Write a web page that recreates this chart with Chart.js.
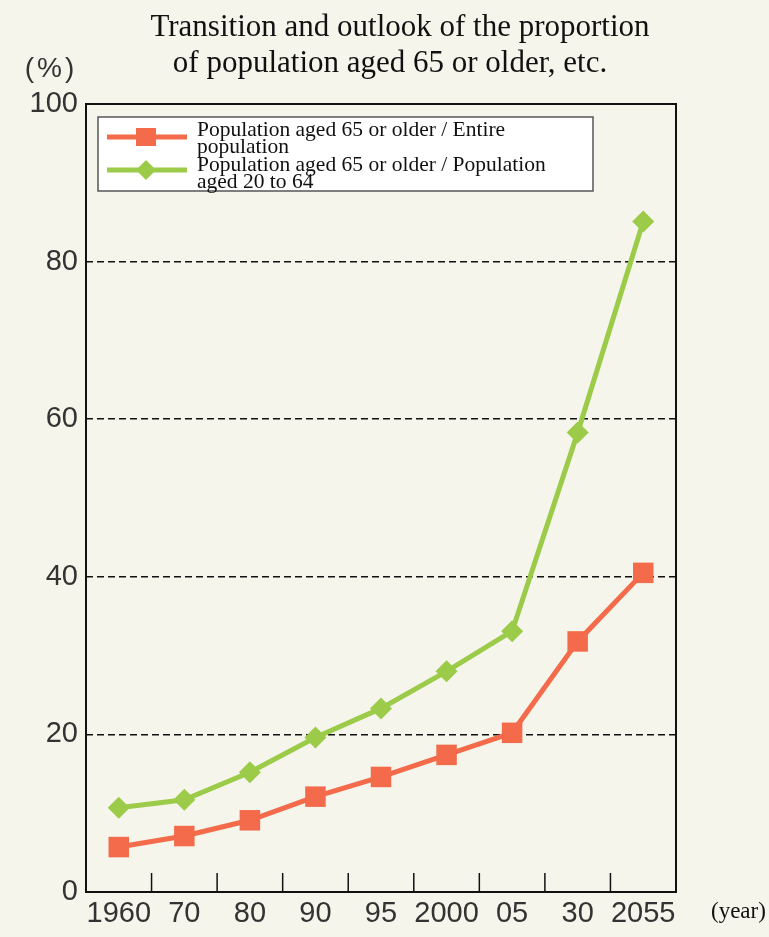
<!DOCTYPE html>
<html>
<head>
<meta charset="utf-8">
<script src="https://cdn.jsdelivr.net/npm/chart.js@4/dist/chart.umd.min.js"></script>
<style>
  html, body { margin: 0; padding: 0; background: #f5f5ec; }
  #wrap { width: 769px; height: 937px; }
</style>
</head>
<body>
<div id="wrap"><canvas id="agingChart" width="769" height="937"></canvas></div>
<script>
const YEAR_LABELS = ['1960', '70', '80', '90', '95', '2000', '05', '30', '2055'];
const SHARE_OF_TOTAL = [5.7, 7.1, 9.1, 12.1, 14.6, 17.4, 20.2, 31.8, 40.5];
const SHARE_OF_WORKING = [10.7, 11.7, 15.2, 19.6, 23.3, 28.0, 33.1, 58.3, 85.1];
const TITLE_LINES = ['Transition and outlook of the proportion', 'of population aged 65 or older, etc.'];
const Y_TICKS = [0, 20, 40, 60, 80, 100];

const RED = '#f36b4b';
const GREEN = '#9bcb48';
const SERIF = '"Liberation Serif", "Times New Roman", serif';
const SANS = '"Liberation Sans", Arial, sans-serif';

// wrap a label into lines no wider than maxW
function wrapText(ctx, text, maxW) {
    const words = text.split(' ');
    const lines = [];
    let cur = '';
    words.forEach(w => {
        const test = cur ? cur + ' ' + w : w;
        if (ctx.measureText(test).width > maxW && cur) { lines.push(cur); cur = w; }
        else cur = test;
    });
    if (cur) lines.push(cur);
    return lines;
}

const decorations = {
    id: 'decorations',
    afterDraw(chart) {
        const { ctx, chartArea: a } = chart;
        const x = chart.scales.x;
        ctx.save();

        // frame
        ctx.strokeStyle = '#111';
        ctx.lineWidth = 2;
        ctx.strokeRect(a.left, a.top, a.right - a.left, a.bottom - a.top);

        // inner ticks between categories
        ctx.lineWidth = 1.5;
        for (let i = 0; i < YEAR_LABELS.length - 1; i++) {
            const px = (x.getPixelForTick(i) + x.getPixelForTick(i + 1)) / 2;
            ctx.beginPath();
            ctx.moveTo(px, a.bottom);
            ctx.lineTo(px, a.bottom - 19);
            ctx.stroke();
        }

        // title
        ctx.fillStyle = '#111';
        ctx.font = '31px ' + SERIF;
        ctx.textAlign = 'center';
        ctx.textBaseline = 'middle';
        ctx.fillText(TITLE_LINES[0], 400, 28);
        ctx.fillText(TITLE_LINES[1], 390, 64);

        // unit labels
        ctx.fillStyle = '#333';
        ctx.font = '28px ' + SANS;
        ctx.letterSpacing = '3px';
        ctx.fillText('(%)', 51, 69);
        ctx.letterSpacing = '0px';
        ctx.fillStyle = '#111';
        ctx.font = '23px ' + SERIF;
        ctx.textAlign = 'left';
        ctx.fillText('(year)', 711, 912);

        // legend box
        const bx = 98, by = 117, bw = 495, bh = 74;
        ctx.fillStyle = '#ffffff';
        ctx.fillRect(bx, by, bw, bh);
        ctx.strokeStyle = '#555';
        ctx.lineWidth = 1.5;
        ctx.strokeRect(bx, by, bw, bh);

        ctx.font = '21.5px ' + SERIF;
        ctx.textBaseline = 'alphabetic';
        const rowY = [137, 170];
        const baseY = [136, 171];
        chart.data.datasets.forEach((ds, i) => {
            const cy = rowY[i];
            ctx.strokeStyle = ds.borderColor;
            ctx.lineWidth = 5;
            ctx.beginPath();
            ctx.moveTo(107, cy);
            ctx.lineTo(187, cy);
            ctx.stroke();
            ctx.fillStyle = ds.borderColor;
            if (ds.pointStyle === 'rect') {
                ctx.fillRect(146 - 10, cy - 9, 20, 18);
            } else {
                ctx.beginPath();
                ctx.moveTo(146, cy - 10);
                ctx.lineTo(156, cy);
                ctx.lineTo(146, cy + 10);
                ctx.lineTo(136, cy);
                ctx.closePath();
                ctx.fill();
            }
            ctx.fillStyle = '#111';
            const lines = wrapText(ctx, ds.label, 350);
            lines.forEach((ln, j) => ctx.fillText(ln, 197, baseY[i] + j * 16.5));
        });
        ctx.restore();
    }
};

new Chart(document.getElementById('agingChart'), {
    type: 'line',
    data: {
        labels: YEAR_LABELS,
        datasets: [
            {
                label: 'Population aged 65 or older / Entire population',
                data: SHARE_OF_TOTAL,
                borderColor: RED,
                backgroundColor: RED,
                borderWidth: 5,
                pointStyle: 'rect',
                pointRadius: 14.5,
                pointBorderWidth: 0,
                tension: 0,
                clip: false,
            },
            {
                label: 'Population aged 65 or older / Population aged 20 to 64',
                data: SHARE_OF_WORKING,
                borderColor: GREEN,
                backgroundColor: GREEN,
                borderWidth: 5,
                pointStyle: 'rectRot',
                pointRadius: 11,
                pointBorderWidth: 0,
                tension: 0,
                clip: false,
            },
        ],
    },
    options: {
        responsive: false,
        animation: false,
        devicePixelRatio: 1,
        layout: { padding: { left: 26, right: 93, top: 104, bottom: 0 } },
        plugins: {
            legend: { display: false },
            title: { display: false },
            tooltip: { enabled: false },
        },
        scales: {
            x: {
                offset: true,
                grid: { display: false },
                border: { display: false },
                ticks: { color: '#333', font: { family: SANS, size: 29 }, padding: -3, maxRotation: 0, autoSkip: false },
                afterFit: s => { s.height = 45; },
            },
            y: {
                min: 0,
                max: 100,
                afterBuildTicks: s => { s.ticks = Y_TICKS.map(v => ({ value: v })); },
                grid: {
                    drawTicks: false,
                    lineWidth: 1.5,
                    color: c => (c.tick.value === 0 || c.tick.value === 100) ? 'rgba(0,0,0,0)' : '#111',
                },
                border: { display: false, dash: [7, 4] },
                ticks: { color: '#333', font: { family: SANS, size: 29 }, padding: 8 },
                afterFit: s => { s.width = 60; },
            },
        },
    },
    plugins: [decorations],
});
</script>
</body>
</html>
